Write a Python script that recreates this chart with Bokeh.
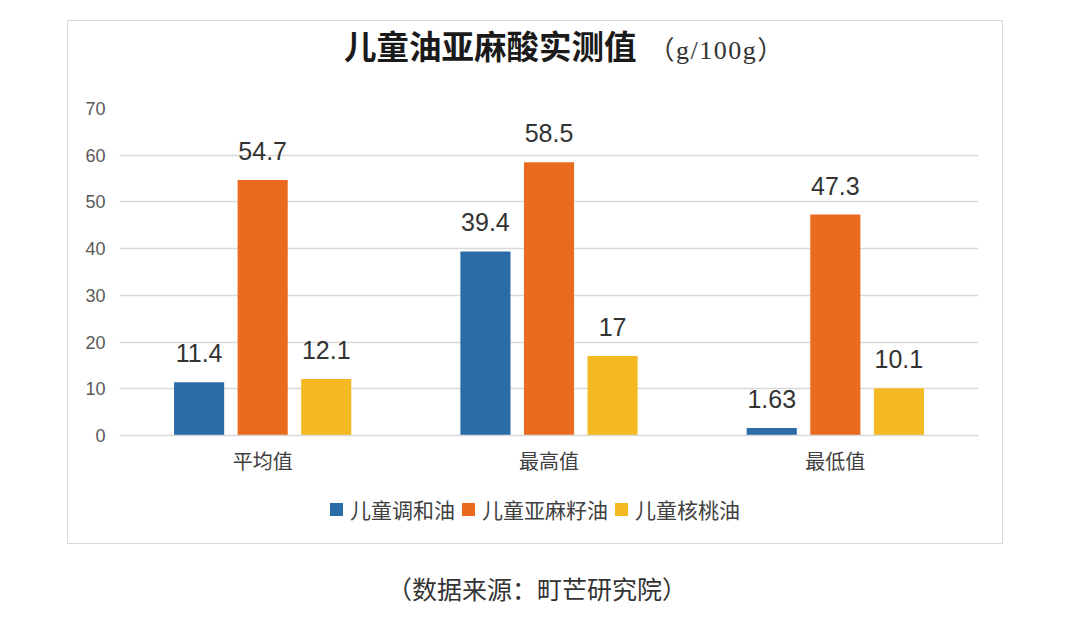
from bokeh.plotting import figure
from bokeh.models import (FactorRange, ColumnDataSource, LabelSet, Div,
                          FixedTicker, Range1d)
from bokeh.core.properties import value
from bokeh.layouts import column
from bokeh.transform import dodge
from bokeh.embed import file_html
from bokeh.resources import INLINE

categories = ["平均值", "最高值", "最低值"]
series_names = ["儿童调和油", "儿童亚麻籽油", "儿童核桃油"]
blend_oil = [11.4, 39.4, 1.63]
linseed_oil = [54.7, 58.5, 47.3]
walnut_oil = [12.1, 17, 10.1]
y_ticks = [0, 10, 20, 30, 40, 50, 60, 70]
title_text = "儿童油亚麻酸实测值"
unit_text = "（g/100g）"
source_text = "（数据来源：町芒研究院）"

colors = ["#2b6ca8", "#ea6b20", "#f4b923"]
offsets = [-0.222, 0.0, 0.222]

CJK = "Noto Sans CJK SC"
BOX_L, BOX_T, BOX_R, BOX_B = 67, 20, 1003, 544
FL, FR, FT, FB = 119, 978, 108, 435
HEADER_H = 78
FIG_BOTTOM = 485
BOX_W = BOX_R - BOX_L
FIG_TOP = BOX_T + 1 + HEADER_H
FIG_H = FIG_BOTTOM - FIG_TOP
LEG_H = BOX_B - 1 - FIG_BOTTOM

p = figure(width=BOX_W - 2, height=FIG_H, x_range=FactorRange(factors=categories),
           y_range=Range1d(0, 70), output_backend="svg", toolbar_location=None,
           min_border_left=FL - BOX_L - 1, min_border_right=BOX_R - FR - 1,
           min_border_top=FT - FIG_TOP, min_border_bottom=FIG_BOTTOM - FB)
p.outline_line_color = None
p.background_fill_color = "white"
p.border_fill_color = "white"

src = ColumnDataSource(dict(cat=categories, s0=blend_oil, s1=linseed_oil, s2=walnut_oil,
                            l0=[f"{v:g}" for v in blend_oil],
                            l1=[f"{v:g}" for v in linseed_oil],
                            l2=[f"{v:g}" for v in walnut_oil]))

for i in range(3):
    p.vbar(x=dodge("cat", offsets[i], range=p.x_range), top=f"s{i}", width=0.175,
           source=src, color=colors[i], line_color=None)
    p.add_layout(LabelSet(x=dodge("cat", offsets[i], range=p.x_range), y=f"s{i}",
                          text=f"l{i}", source=src, y_offset=20, text_align="center",
                          text_baseline="alphabetic", text_font=value("Liberation Sans"),
                          text_font_size="25px", text_color="#333333"))

p.yaxis.ticker = FixedTicker(ticks=y_ticks)
p.yaxis.axis_line_color = None
p.yaxis.major_tick_line_color = None
p.yaxis.minor_tick_line_color = None
p.yaxis.major_label_text_font = "Liberation Sans"
p.yaxis.major_label_text_font_size = "18px"
p.yaxis.major_label_text_color = "#595959"
p.yaxis.major_label_standoff = 8

p.xaxis.axis_line_color = "#d9d9d9"
p.xaxis.axis_line_width = 1.5
p.xaxis.major_tick_line_color = None
p.xaxis.minor_tick_line_color = None
p.xaxis.major_label_text_font = CJK
p.xaxis.major_label_text_font_size = "20px"
p.xaxis.major_label_text_color = "#404040"
p.xaxis.major_label_standoff = 4

p.xgrid.grid_line_color = None
p.ygrid.grid_line_color = "#d9d9d9"
p.ygrid.grid_line_width = 1.5

header = Div(
    text=(f'<span style="font-family:\'{CJK}\';font-weight:bold;font-size:32.5px;'
          f'color:#1a1a1a;">{title_text}</span>'
          f'<span style="font-family:\'Liberation Serif\',\'{CJK}\';font-size:26px;'
          f'letter-spacing:1.5px;color:#333333;margin-left:12px;">{unit_text}</span>'),
    width=BOX_W - 2, height=HEADER_H, margin=0,
    styles={"padding-left": f"{344 - BOX_L - 1}px", "padding-top": "1px",
            "white-space": "nowrap"})

legend_html = "".join(
    f'<span style="display:inline-block;width:13px;height:13px;background:{c};'
    f'margin-right:7px;vertical-align:middle;"></span>'
    f'<span style="font-family:\'{CJK}\';font-size:21px;color:#404040;'
    f'vertical-align:middle;margin-right:7px;">{name}</span>'
    for name, c in zip(series_names, colors))
legend_div = Div(text=legend_html, width=BOX_W - 2, height=LEG_H, margin=0,
                 styles={"padding-left": f"{330 - BOX_L - 1}px", "padding-top": "9px",
                         "white-space": "nowrap"})

box = column(header, p, legend_div, spacing=0, margin=(BOX_T, 0, 0, BOX_L),
             styles={"border": "1px solid #d9d9d9", "background": "white"})

source = Div(text=f'<span style="font-family:\'{CJK}\';font-size:25px;color:#333333;">'
                  f'{source_text}</span>',
             width=1080, height=70, margin=0,
             styles={"text-align": "center", "padding-top": "27px",
                     "padding-right": "6px"})

page = column(box, source, spacing=0)

open("out.html", "w").write(file_html(page, INLINE))
